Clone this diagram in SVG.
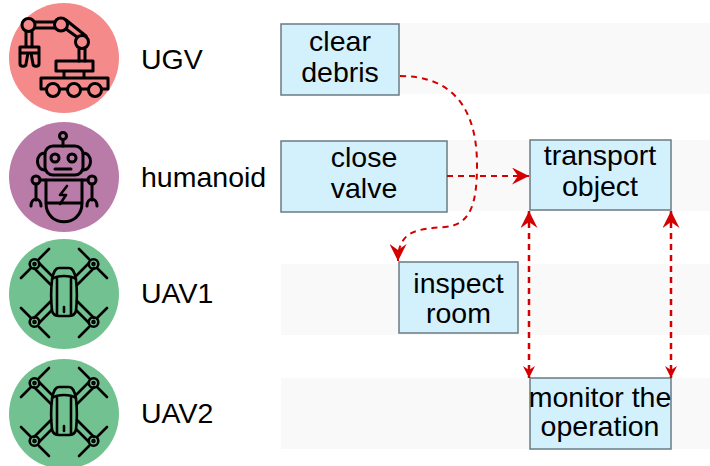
<svg xmlns="http://www.w3.org/2000/svg" width="710" height="466" viewBox="0 0 710 466">
<defs>
<marker id="big" viewBox="0 0 17 17" refX="17" refY="8.500" markerWidth="17" markerHeight="17" markerUnits="userSpaceOnUse" orient="auto-start-reverse"><path d="M0,0L17,8.500L0,17L6,8.500Z" fill="#d40000"/></marker>
<marker id="small" viewBox="0 0 12 12" refX="12" refY="6" markerWidth="12" markerHeight="12" markerUnits="userSpaceOnUse" orient="auto"><path d="M0,0L12,6L0,12L4,6Z" fill="#d40000"/></marker>
<g id="drone" fill="none" stroke="#000" stroke-width="2.600" stroke-linecap="round" stroke-linejoin="round">
<path d="M-12,-13C-11,-21 -8,-25 -5,-25H5C8,-25 11,-21 12,-13C13,-5 13,8 12,18C11,21 8,23 5,23H-5C-8,23 -11,21 -12,18C-13,8 -13,-5 -12,-13Z"/>
<path d="M-12,-14C-6,-18 6,-18 12,-14M-7,-14V22M7,-14V22M0,14V19"/>
<path d="M-25,-30L-12,-17M-30,-25L-13,-8M25,-30L12,-17M30,-25L13,-8M-25,30L-12,17M-30,25L-13,8M25,30L12,17M30,25L13,8"/>
<circle cx="-29.500" cy="-29" r="4.800"/><circle cx="29.500" cy="-29" r="4.800"/><circle cx="-29.500" cy="29" r="4.800"/><circle cx="29.500" cy="29" r="4.800"/>
<circle cx="-29.500" cy="-29" r="1"/><circle cx="29.500" cy="-29" r="1"/><circle cx="-29.500" cy="29" r="1"/><circle cx="29.500" cy="29" r="1"/>
<path d="M-43,-15L-33,-25M-25,-34L-15,-44M43,-15L33,-25M25,-34L15,-44M-43,15L-33,25M-25,34L-15,44M43,15L33,25M25,34L15,44"/>
</g>
</defs>
<style>
.lane{fill:#f9f9f9}
.box{fill:#d3f1fd;stroke:#6b7b83;stroke-width:1.500}
text{font-family:"Liberation Sans",Arial,sans-serif;fill:#000;font-size:28.500px}
.c{text-anchor:middle}
.flow{fill:none;stroke:#d40000;stroke-width:2;stroke-dasharray:6 5}
.ico{fill:none;stroke:#000;stroke-width:3;stroke-linecap:round;stroke-linejoin:round}
</style>
<rect class="lane" x="281" y="23" width="429" height="71"/>
<rect class="lane" x="281" y="140" width="429" height="71"/>
<rect class="lane" x="281" y="264" width="429" height="71"/>
<rect class="lane" x="281" y="378" width="429" height="71"/>

<g id="ugv">
<circle cx="64" cy="58" r="55" fill="#f58a8a"/>
<g class="ico">
<circle cx="28.500" cy="25" r="6.500"/><circle cx="61" cy="24.500" r="6.500"/><circle cx="82" cy="42" r="6.500"/>
<path d="M35,22H55M35,28H55M66,29L77,37M66,20L86,36M79,48.500V61M85,48V61"/>
<path d="M26,32V47M32,32V47M20,47H39V53H20ZM20,53V64C20,67 26,67 26,64L28,53M39,53V64C39,67 33,67 33,64L31,53"/>
<path d="M56,61H93V71H56ZM64,71V78H84V71M41,78H108V89H41Z"/>
<circle cx="53" cy="90" r="6.500" fill="#f58a8a"/><circle cx="74" cy="90" r="6.500" fill="#f58a8a"/><circle cx="95" cy="90" r="6.500" fill="#f58a8a"/>
</g>
<text x="141" y="69">UGV</text>
</g>
<g id="humanoid">
<circle cx="64" cy="177" r="55" fill="#b97ba8"/>
<g class="ico">
<circle cx="63" cy="136" r="3.500"/><path d="M63,140V146"/>
<rect x="45" y="146" width="38" height="29" rx="8"/>
<path d="M45,153C35,153 35,170 45,170M83,153C93,153 93,170 83,170"/>
<circle cx="55" cy="158" r="4"/><circle cx="72" cy="158" r="4"/><path d="M55,169H71"/>
<path d="M40,180H88"/><circle cx="36" cy="180" r="4"/><circle cx="92" cy="180" r="4"/>
<path d="M46,180V203C46,228 82,228 82,203V180M46,203H82"/>
<path d="M36,184V200M92,184V200M31,206C31,197 41,197 41,206M87,206C87,197 97,197 97,206"/>
<path d="M67,186L60,195H66L60,204" stroke-width="2.600"/>
</g>
<text x="141" y="187">humanoid</text>
</g>
<g id="uav1">
<circle cx="64" cy="294" r="55" fill="#71c290"/>
<use href="#drone" x="64" y="293"/>
<text x="141" y="303">UAV1</text>
</g>
<g id="uav2">
<circle cx="64" cy="414" r="55" fill="#71c290"/>
<use href="#drone" x="64" y="412"/>
<text x="141" y="423">UAV2</text>
</g>

<g id="clear-debris">
<rect class="box" x="281" y="24" width="118" height="71"/>
<text class="c" x="340" y="51">clear</text><text class="c" x="340" y="82">debris</text>
</g>
<g id="close-valve">
<rect class="box" x="281" y="141" width="166" height="71"/>
<text class="c" x="364" y="167">close</text><text class="c" x="364" y="198">valve</text>
</g>
<g id="transport-object">
<rect class="box" x="530" y="140" width="141" height="70"/>
<text class="c" x="600" y="165">transport</text><text class="c" x="600" y="196">object</text>
</g>
<g id="inspect-room">
<rect class="box" x="399" y="262" width="119" height="71"/>
<text class="c" x="458.500" y="293">inspect</text><text class="c" x="458.500" y="323">room</text>
</g>
<g id="monitor-the-operation">
<rect class="box" x="530" y="378" width="141" height="71"/>
<text class="c" x="600" y="407">monitor the</text><text class="c" x="600" y="436">operation</text>
</g>

<g id="connectors">
<path class="flow" d="M400,76C445,76 477,100 477,165C477,205 470,225 445,227C418,229 398,230 398,261" marker-end="url(#big)"/>
<path class="flow" d="M447,176H529" marker-end="url(#big)"/>
<path class="flow" d="M529,211V378" marker-start="url(#big)" marker-end="url(#small)" style="stroke-width:2.500"/>
<path class="flow" d="M671,211V378" marker-start="url(#big)" marker-end="url(#small)" style="stroke-width:2.500"/>
</g>
</svg>
